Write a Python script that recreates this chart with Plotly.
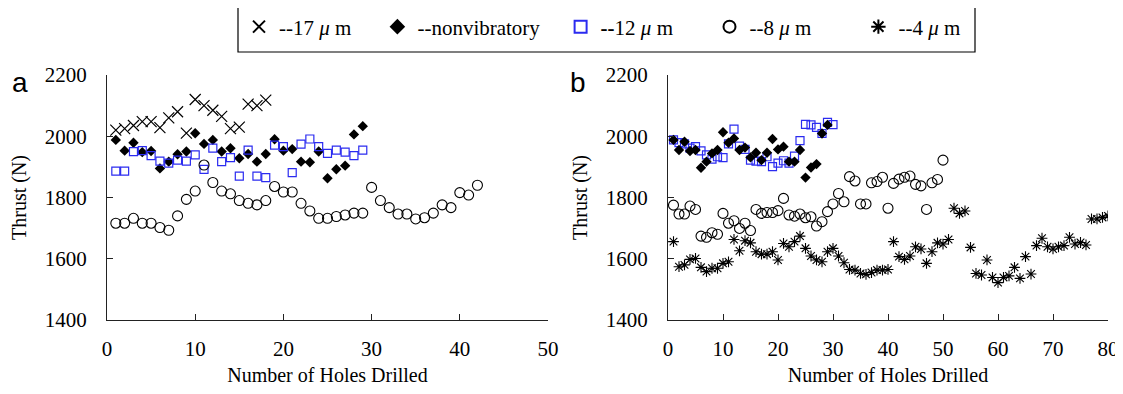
import plotly.graph_objects as go

# ---------------- data ----------------
holes_a_17 = list(range(1, 19))
thrust_a_17 = [2020, 2025, 2035, 2048, 2048, 2028, 2060, 2080, 2010, 2120,
               2100, 2085, 2065, 2025, 2030, 2105, 2100, 2118]
holes_a_nv = list(range(1, 30))
thrust_a_nv = [1988, 1953, 1979, 1948, 1952, 1895, 1917, 1941, 1950, 2010,
               1975, 1988, 1950, 1961, 1928, 1942, 1917, 1942, 1990, 1953,
               1958, 1917, 1915, 1950, 1863, 1892, 1904, 2006, 2033]
holes_a_12 = list(range(1, 30))
thrust_a_12 = [1886, 1886, 1950, 1953, 1937, 1919, 1912, 1922, 1919, 1939,
               1892, 1961, 1917, 1930, 1870, 1955, 1870, 1865, 1971, 1966,
               1881, 1974, 1991, 1966, 1944, 1955, 1948, 1937, 1955]
holes_a_8 = list(range(1, 43))
thrust_a_8 = [1716, 1716, 1732, 1716, 1716, 1702, 1693, 1740, 1794, 1821,
              1906, 1849, 1821, 1812, 1790, 1781, 1776, 1790, 1836, 1818,
              1818, 1781, 1756, 1732, 1732, 1738, 1743, 1749, 1749, 1833,
              1790, 1767, 1746, 1746, 1730, 1734, 1749, 1776, 1767, 1816,
              1808, 1840]

holes_b_nv = list(range(1, 30))
thrust_b_nv = [1988, 1955, 1982, 1952, 1955, 1897, 1917, 1944, 1955, 2013,
               1979, 1993, 1955, 1963, 1931, 1946, 1922, 1946, 1991, 1957,
               1966, 1917, 1917, 1955, 1865, 1898, 1909, 2009, 2037]
holes_b_12 = list(range(1, 31))
thrust_b_12 = [1988, 1979, 1975, 1961, 1966, 1952, 1939, 1925, 1933, 1930,
               1975, 2023, 1968, 1957, 1922, 1919, 1917, 1933, 1901, 1912,
               1920, 1912, 1935, 1986, 2039, 2037, 2029, 2009, 2045, 2038]
holes_b_8 = list(range(1, 51))
thrust_b_8 = [1775, 1746, 1746, 1772, 1761, 1674, 1670, 1685, 1680, 1748,
              1716, 1724, 1699, 1716, 1692, 1761, 1748, 1751, 1751, 1757,
              1797, 1743, 1739, 1746, 1734, 1737, 1707, 1721, 1754, 1779,
              1813, 1786, 1868, 1854, 1779, 1779, 1848, 1852, 1866, 1765,
              1846, 1860, 1866, 1870, 1843, 1838, 1761, 1848, 1859, 1922]
holes_b_4 = list(range(1, 81))
thrust_b_4 = [1656, 1574, 1580, 1598, 1601, 1572, 1558, 1569, 1569, 1585,
              1590, 1663, 1626, 1659, 1652, 1623, 1615, 1615, 1623, 1596,
              1650, 1639, 1656, 1674, 1634, 1609, 1596, 1590, 1623, 1634,
              1609, 1587, 1565, 1563, 1552, 1549, 1555, 1563, 1563, 1565,
              1656, 1607, 1598, 1609, 1639, 1632, 1585, 1623, 1652, 1648,
              1663, 1765, 1748, 1756, 1637, 1552, 1547, 1596, 1539, 1522,
              1539, 1544, 1572, 1536, 1607, 1550, 1643, 1667, 1639, 1632,
              1639, 1643, 1670, 1648, 1653, 1645, 1730, 1730, 1735, 1740]

y_ticks = [1400, 1600, 1800, 2000, 2200]
x_ticks_a = [0, 10, 20, 30, 40, 50]
x_ticks_b = [0, 10, 20, 30, 40, 50, 60, 70, 80]

NB = "\u00a0"
names = {
    "17": "--17 <i>μ</i> m" + NB * 4,
    "nv": "--nonvibratory" + NB * 3,
    "12": "<b>--</b>12 <i>μ</i> m" + NB * 6,
    "8": "--8 <i>μ</i> m" + NB * 8,
    "4": "--4 <i>μ</i> m",
}

BLUE = "#2b2bf0"
styles = {
    "17": dict(symbol="x-thin-open", size=11, color="black", line=dict(width=1.2, color="black")),
    "nv": dict(symbol="diamond", size=8, color="black", line=dict(width=0)),
    "12": dict(symbol="square-open", size=8, color=BLUE, line=dict(width=1.2, color=BLUE)),
    "8": dict(symbol="circle-open", size=10, color="black", line=dict(width=1.1, color="black")),
    "4": dict(symbol="asterisk-open", size=9, color="black", line=dict(width=1.1, color="black")),
}

fig = go.Figure()

def add(x, y, key, ax, show):
    fig.add_trace(go.Scatter(
        x=x, y=y, mode="markers", name=names[key], marker=styles[key],
        xaxis="x" if ax == 1 else "x2", yaxis="y" if ax == 1 else "y2",
        showlegend=show, legendgroup=key))

add(holes_a_17, thrust_a_17, "17", 1, True)
add(holes_a_nv, thrust_a_nv, "nv", 1, True)
add(holes_a_12, thrust_a_12, "12", 1, True)
add(holes_a_8, thrust_a_8, "8", 1, True)
add(holes_b_4, thrust_b_4, "4", 2, True)
add(holes_b_8, thrust_b_8, "8", 2, False)
add(holes_b_12, thrust_b_12, "12", 2, False)
add(holes_b_nv, thrust_b_nv, "nv", 2, False)

FONT = "Liberation Serif, Times New Roman, serif"
# the page body adds an 8px margin on every side; size the figure so the page
# does not overflow, and shift target page positions by 8px
OFF = 8
W, H = 1123 - OFF, 394 - 2 * OFF


def px(x):
    return (x - OFF) / W


def py(y):
    return (H - (y - OFF)) / H


ya_dom = [py(320), py(75)]

common_x = dict(showline=True, linecolor="#222", linewidth=1.3, ticks="inside",
                ticklen=6, tickcolor="#222", showgrid=False, zeroline=False,
                automargin=False, ticklabelstandoff=10,
                tickfont=dict(family=FONT, size=21, color="black"),
                title=dict(text="Number of Holes Drilled",
                           font=dict(family=FONT, size=20, color="black"), standoff=10))
common_y = dict(showline=True, linecolor="#222", linewidth=1.3, ticks="inside",
                ticklen=6, tickcolor="#222", showgrid=False, zeroline=False,
                automargin=False, ticklabelstandoff=15,
                range=[1400, 2200], tickvals=y_ticks,
                tickfont=dict(family=FONT, size=21, color="black"),
                title=dict(text="Thrust (N)", font=dict(family=FONT, size=20, color="black"),
                           standoff=12))

fig.update_layout(
    width=W, height=H,
    margin=dict(l=0, r=0, t=0, b=0, autoexpand=False),
    paper_bgcolor="white", plot_bgcolor="white",
    xaxis=dict(common_x, domain=[px(107), px(548)], range=[0, 50], tickvals=x_ticks_a, anchor="y"),
    yaxis=dict(common_y, domain=ya_dom, anchor="x"),
    xaxis2=dict(common_x, domain=[px(668), px(1108)], range=[0, 80], tickvals=x_ticks_b, anchor="y2"),
    yaxis2=dict(common_y, domain=ya_dom, anchor="x2"),
    legend=dict(orientation="h", x=px(239), xanchor="left", y=py(27), yanchor="middle",
                borderwidth=0, bgcolor="rgba(0,0,0,0)",
                font=dict(family=FONT, size=21, color="black"),
                entrywidth=0, itemsizing="constant", tracegroupgap=0),
    shapes=[dict(type="rect", xref="paper", yref="paper",
                 x0=px(238), x1=px(975), y0=py(52), y1=py(2),
                 line=dict(color="black", width=1.2), fillcolor="rgba(0,0,0,0)", layer="below")],
    annotations=[
        dict(text="a", x=px(20), y=py(82), xref="paper", yref="paper",
             showarrow=False, font=dict(family="Liberation Sans, Arial, sans-serif", size=28, color="black"),
             xanchor="center", yanchor="middle"),
        dict(text="b", x=px(578), y=py(82), xref="paper", yref="paper",
             showarrow=False, font=dict(family="Liberation Sans, Arial, sans-serif", size=28, color="black"),
             xanchor="center", yanchor="middle"),
    ],
)

fig.write_html("out.html")
